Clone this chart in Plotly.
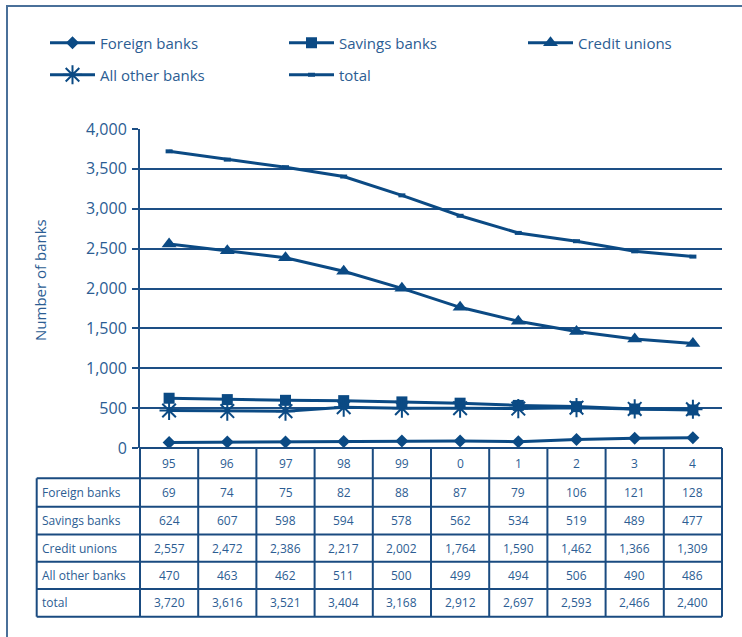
import plotly.graph_objects as go

# ---- data ----
years = ["95", "96", "97", "98", "99", "0", "1", "2", "3", "4"]
foreign_banks = [69, 74, 75, 82, 88, 87, 79, 106, 121, 128]
savings_banks = [624, 607, 598, 594, 578, 562, 534, 519, 489, 477]
credit_unions = [2557, 2472, 2386, 2217, 2002, 1764, 1590, 1462, 1366, 1309]
all_other_banks = [470, 463, 462, 511, 500, 499, 494, 506, 490, 486]
total = [3720, 3616, 3521, 3404, 3168, 2912, 2697, 2593, 2466, 2400]

series_names = ["Foreign banks", "Savings banks", "Credit unions", "All other banks", "total"]
series_values = [foreign_banks, savings_banks, credit_unions, all_other_banks, total]

# ---- page geometry (pixels) ----
W, H = 742, 637
PL, PR, PT, PB = 140, 722, 129, 448          # plot area edges
FONT = "Open Sans"
LINE = "#0b4a84"
TEXT = "#2c5d93"
GRID = "#1d4f85"


def px_x(x):
    return (x - PL) / (PR - PL)


def px_y(y):
    return (PB - y) / (PB - PT)


markers = [
    dict(symbol="diamond", size=10, color=LINE),
    dict(symbol="square", size=11, color=LINE),
    dict(symbol="triangle-up", size=13, color=LINE),
    dict(symbol="asterisk-open", size=16, color=LINE, line=dict(width=2, color=LINE)),
    dict(symbol="line-ew-open", size=5, color=LINE, line=dict(width=4, color=LINE)),
]
# one legend box per entry: (legend id, left px, centre-line px)
legend_slots = [("legend", 45, 43), ("legend2", 284, 43), ("legend3", 523, 43),
                ("legend4", 45, 75), ("legend5", 284, 75)]

fig = go.Figure()
x_idx = list(range(len(years)))
for name, vals, mk, slot in zip(series_names, series_values, markers, legend_slots):
    fig.add_trace(go.Scatter(
        x=x_idx, y=vals, name=name, mode="lines+markers",
        line=dict(color=LINE, width=3), marker=mk, legend=slot[0],
        cliponaxis=False, showlegend=True,
    ))

shapes = []
annotations = []

# outer frame (top and left edges)
shapes.append(dict(type="line", xref="paper", yref="paper",
                   x0=px_x(6), x1=px_x(742), y0=px_y(6), y1=px_y(6),
                   line=dict(color="#4a7099", width=2)))
shapes.append(dict(type="line", xref="paper", yref="paper",
                   x0=px_x(7), x1=px_x(7), y0=px_y(6), y1=px_y(637),
                   line=dict(color="#4a7099", width=2)))

# data table under the chart
row_edges = [448, 478.3, 506.7, 534.5, 561.7, 589, 616.7]
label_left = 36.7
tbl_line = dict(color="#1a4b80", width=2)
n = len(years)
for k in range(n + 1):
    xp = k / n
    shapes.append(dict(type="line", xref="paper", yref="paper",
                       x0=xp, x1=xp, y0=px_y(row_edges[0]), y1=px_y(row_edges[-1]),
                       line=tbl_line))
shapes.append(dict(type="line", xref="paper", yref="paper",
                   x0=px_x(label_left), x1=px_x(label_left),
                   y0=px_y(row_edges[1]), y1=px_y(row_edges[-1]), line=tbl_line))
for i, ry in enumerate(row_edges):
    x0 = 0 if i == 0 else px_x(label_left)
    shapes.append(dict(type="line", xref="paper", yref="paper",
                       x0=x0, x1=1, y0=px_y(ry), y1=px_y(ry), line=tbl_line))

cell_font = dict(family=FONT, size=12, color=TEXT)

# header row: year labels
hy = px_y((row_edges[0] + row_edges[1]) / 2)
for i, yr in enumerate(years):
    annotations.append(dict(x=i, y=hy, xref="x", yref="paper", text=yr,
                            xanchor="center", yanchor="middle",
                            showarrow=False, font=cell_font))

# body rows: series name + values
for r, (name, vals) in enumerate(zip(series_names, series_values)):
    cy = px_y((row_edges[r + 1] + row_edges[r + 2]) / 2)
    annotations.append(dict(x=px_x(40), y=cy, xref="paper", yref="paper", text=name,
                            xanchor="left", yanchor="middle", showarrow=False,
                            font=cell_font))
    for i, v in enumerate(vals):
        annotations.append(dict(x=i, y=cy, xref="x", yref="paper", text=f"{v:,}",
                                xanchor="center", yanchor="middle",
                                showarrow=False, font=cell_font))

# y-axis title
annotations.append(dict(x=px_x(40), y=px_y(280), xref="paper", yref="paper",
                        text="Number of banks", textangle=-90, showarrow=False,
                        xanchor="center", yanchor="middle",
                        font=dict(family=FONT, size=15, color=TEXT)))

legend_common = dict(
    orientation="h", xanchor="left", yanchor="middle", itemwidth=45,
    font=dict(family=FONT, size=15, color=TEXT), bgcolor="rgba(0,0,0,0)",
)
legends = {lid: dict(x=px_x(lx), y=px_y(ly), visible=True, **legend_common)
           for lid, lx, ly in legend_slots}

fig.update_layout(
    width=W, height=H,
    showlegend=True,
    margin=dict(l=PL, r=W - PR, t=PT, b=H - PB),
    paper_bgcolor="white", plot_bgcolor="white",
    font=dict(family=FONT, color=TEXT),
    xaxis=dict(range=[-0.5, n - 0.5], showticklabels=False, showgrid=False,
               zeroline=False, showline=False, ticks=""),
    yaxis=dict(range=[0, 4000], tickvals=list(range(0, 4001, 500)),
               tickformat=",d", showgrid=True, gridcolor=GRID, gridwidth=1.5,
               zeroline=False, showline=True, linecolor=GRID, linewidth=2,
               ticks="outside", ticklen=6, tickcolor=GRID, tickwidth=1.5,
               ticklabelstandoff=2,
               tickfont=dict(family=FONT, size=16, color=TEXT)),
    shapes=shapes,
    annotations=annotations,
    **legends,
)

fig.write_html("out.html")
